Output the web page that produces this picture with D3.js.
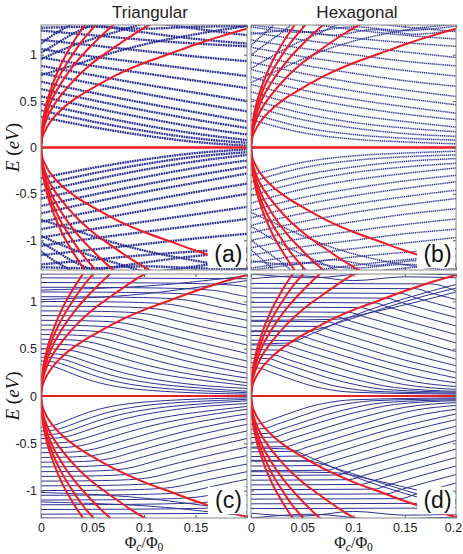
<!DOCTYPE html>
<html>
<head>
<meta charset="utf-8">
<script src="https://cdn.jsdelivr.net/npm/d3@7"></script>
<style>
body { margin: 0; background: #fff; }
svg { display: block; }
.tick text { font-family: "Liberation Sans", Arial, sans-serif; font-size: 12.5px; fill: #222; }
.frame { fill: none; stroke: #8a8a8a; stroke-width: 1; }
.lvl { fill: none; stroke: #ec1c24; stroke-width: 2; }
.st { fill: none; stroke: #2b3192; }
.title { font-family: "Liberation Sans", Arial, sans-serif; font-size: 17px; fill: #222; }
.tag { font-family: "Liberation Sans", Arial, sans-serif; font-size: 23px; fill: #111; }
.math { font-family: "Liberation Serif", "DejaVu Serif", serif; fill: #111; }
</style>
</head>
<body>
<div id="chart"></div>
<script>
/*global d3*/
(function () {
    "use strict";

    var columnTitles = ["Triangular", "Hexagonal"],
        panelTags = ["(a)", "(b)", "(c)", "(d)"],
        phiTicks = [0, 0.05, 0.1, 0.15, 0.2],
        eTicks = [-1, -0.5, 0, 0.5, 1],

        // Landau levels n = 0..5, positive branch (the negative one is the mirror)
        landau = [
            [[0, 0], [0.2, 0]],
            [[0, 0], [0.001, 0.09], [0.004, 0.18], [0.01, 0.29], [0.02, 0.41], [0.035, 0.54], [0.05, 0.64], [0.075, 0.79], [0.1, 0.91], [0.125, 1.01], [0.15, 1.11], [0.175, 1.20], [0.2, 1.28]],
            [[0, 0], [0.001, 0.13], [0.004, 0.26], [0.01, 0.41], [0.02, 0.57], [0.035, 0.76], [0.05, 0.91], [0.07, 1.07], [0.09, 1.22], [0.11, 1.35]],
            [[0, 0], [0.001, 0.16], [0.004, 0.31], [0.01, 0.50], [0.02, 0.70], [0.035, 0.93], [0.05, 1.11], [0.065, 1.27], [0.075, 1.36]],
            [[0, 0], [0.001, 0.18], [0.004, 0.36], [0.01, 0.57], [0.02, 0.81], [0.03, 0.99], [0.04, 1.15], [0.05, 1.28], [0.057, 1.37]],
            [[0, 0], [0.001, 0.20], [0.004, 0.41], [0.01, 0.64], [0.02, 0.91], [0.03, 1.11], [0.04, 1.28], [0.046, 1.38]]
        ],

        // dot levels, E > 0 side (spectrum is symmetric in E)
        levelsA = [
            [[0, 0.33], [0.05, 0.22], [0.1, 0.13], [0.15, 0.06], [0.2, 0.02]],
            [[0, 0.40], [0.05, 0.28], [0.1, 0.18], [0.15, 0.10], [0.2, 0.05]],
            [[0, 0.47], [0.05, 0.35], [0.1, 0.24], [0.15, 0.15], [0.2, 0.08]],
            [[0, 0.55], [0.05, 0.43], [0.1, 0.32], [0.15, 0.22], [0.2, 0.14]],
            [[0, 0.63], [0.05, 0.51], [0.1, 0.40], [0.15, 0.30], [0.2, 0.21]],
            [[0, 0.71], [0.05, 0.59], [0.1, 0.48], [0.15, 0.38], [0.2, 0.28]],
            [[0, 0.80], [0.05, 0.69], [0.1, 0.58], [0.15, 0.48], [0.2, 0.39]],
            [[0, 0.88], [0.05, 0.78], [0.1, 0.68], [0.15, 0.59], [0.2, 0.50]],
            [[0, 0.97], [0.05, 0.88], [0.1, 0.80], [0.15, 0.72], [0.2, 0.64]],
            [[0, 1.06], [0.05, 0.98], [0.1, 0.91], [0.15, 0.84], [0.2, 0.77]],
            [[0, 1.16], [0.05, 1.10], [0.1, 1.04], [0.15, 0.98], [0.2, 0.93]],
            [[0, 1.26], [0.05, 1.21], [0.1, 1.16], [0.15, 1.12], [0.2, 1.09]],
            [[0.03, 1.36], [0.1, 1.24], [0.15, 1.17], [0.2, 1.12]],
            [[0.1, 1.36], [0.15, 1.28], [0.2, 1.21]],
            [[0, 0.78], [0.03, 0.88], [0.06, 0.99], [0.1, 1.11], [0.15, 1.22], [0.2, 1.31]],
            [[0, 0.95], [0.02, 1.05], [0.05, 1.17], [0.08, 1.27], [0.1, 1.34]],
            [[0, 1.02], [0.015, 1.12], [0.03, 1.22], [0.045, 1.30], [0.055, 1.36]],
            [[0, 1.12], [0.01, 1.20], [0.025, 1.30], [0.035, 1.36]],
            [[0, 1.29], [0.05, 1.30], [0.1, 1.28], [0.15, 1.30], [0.2, 1.31]]
        ],
        levelsB = [
            [[0, 0.30], [0.05, 0.16], [0.1, 0.09], [0.15, 0.06], [0.2, 0.04]],
            [[0, 0.37], [0.05, 0.22], [0.1, 0.14], [0.15, 0.10], [0.2, 0.08]],
            [[0, 0.45], [0.05, 0.30], [0.1, 0.21], [0.15, 0.15], [0.2, 0.12]],
            [[0, 0.52], [0.05, 0.37], [0.1, 0.27], [0.15, 0.21], [0.2, 0.17]],
            [[0, 0.60], [0.05, 0.45], [0.1, 0.35], [0.15, 0.28], [0.2, 0.22]],
            [[0, 0.68], [0.05, 0.54], [0.1, 0.44], [0.15, 0.36], [0.2, 0.30]],
            [[0, 0.76], [0.05, 0.62], [0.1, 0.52], [0.15, 0.44], [0.2, 0.37]],
            [[0, 0.84], [0.05, 0.71], [0.1, 0.61], [0.15, 0.53], [0.2, 0.46]],
            [[0, 0.92], [0.05, 0.80], [0.1, 0.70], [0.15, 0.62], [0.2, 0.55]],
            [[0, 1.00], [0.05, 0.89], [0.1, 0.80], [0.15, 0.72], [0.2, 0.66]],
            [[0, 1.08], [0.05, 0.98], [0.1, 0.90], [0.15, 0.83], [0.2, 0.77]],
            [[0, 1.16], [0.05, 1.07], [0.1, 1.00], [0.15, 0.93], [0.2, 0.88]],
            [[0, 1.24], [0.05, 1.16], [0.1, 1.09], [0.15, 1.03], [0.2, 0.97]],
            [[0, 1.32], [0.05, 1.25], [0.1, 1.18], [0.15, 1.13], [0.2, 1.09]],
            [[0.04, 1.36], [0.1, 1.27], [0.15, 1.21], [0.2, 1.17]],
            [[0.1, 1.36], [0.15, 1.30], [0.2, 1.25]],
            [[0, 0.70], [0.02, 0.80], [0.05, 0.95], [0.08, 1.08], [0.12, 1.20], [0.16, 1.28], [0.2, 1.33]],
            [[0, 0.85], [0.02, 0.98], [0.04, 1.10], [0.07, 1.25], [0.085, 1.33]],
            [[0, 1.00], [0.015, 1.12], [0.03, 1.24], [0.04, 1.33]],
            [[0, 1.10], [0.01, 1.20], [0.02, 1.30], [0.025, 1.36]],
            [[0, 1.22], [0.04, 1.26], [0.08, 1.21], [0.12, 1.27], [0.16, 1.22], [0.2, 1.27]],
            [[0, 1.30], [0.05, 1.24], [0.1, 1.30], [0.15, 1.26], [0.2, 1.31]]
        ],
        levelsC = [
            [[0, 0.33], [0.01, 0.325], [0.025, 0.26], [0.045, 0.17], [0.07, 0.10], [0.1, 0.06], [0.15, 0.03], [0.2, 0.02]],
            [[0, 0.37], [0.015, 0.365], [0.03, 0.30], [0.055, 0.20], [0.08, 0.13], [0.12, 0.07], [0.2, 0.035]],
            [[0, 0.41], [0.019, 0.405], [0.035, 0.34], [0.06, 0.24], [0.09, 0.16], [0.13, 0.10], [0.2, 0.05]],
            [[0, 0.45], [0.023, 0.445], [0.04, 0.38], [0.07, 0.27], [0.1, 0.19], [0.15, 0.11], [0.2, 0.08]],
            [[0, 0.50], [0.029, 0.495], [0.047, 0.43], [0.08, 0.32], [0.12, 0.21], [0.2, 0.11]],
            [[0, 0.55], [0.035, 0.545], [0.055, 0.48], [0.09, 0.36], [0.13, 0.25], [0.2, 0.14]],
            [[0, 0.60], [0.042, 0.595], [0.062, 0.53], [0.1, 0.41], [0.14, 0.29], [0.2, 0.19]],
            [[0, 0.65], [0.05, 0.645], [0.07, 0.58], [0.11, 0.46], [0.15, 0.34], [0.2, 0.24]],
            [[0, 0.70], [0.058, 0.695], [0.078, 0.63], [0.12, 0.50], [0.16, 0.39], [0.2, 0.30]],
            [[0, 0.75], [0.067, 0.745], [0.087, 0.68], [0.13, 0.55], [0.17, 0.44], [0.2, 0.37]],
            [[0, 0.80], [0.077, 0.795], [0.097, 0.73], [0.14, 0.60], [0.2, 0.45]],
            [[0, 0.85], [0.087, 0.845], [0.107, 0.78], [0.15, 0.66], [0.2, 0.54]],
            [[0, 0.90], [0.098, 0.895], [0.118, 0.83], [0.16, 0.72], [0.2, 0.63]],
            [[0, 0.95], [0.11, 0.945], [0.13, 0.88], [0.17, 0.78], [0.2, 0.72]],
            [[0, 1.00], [0.122, 0.995], [0.142, 0.93], [0.2, 0.80]],
            [[0, 1.05], [0.135, 1.045], [0.155, 0.98], [0.2, 0.88]],
            [[0, 1.10], [0.149, 1.095], [0.17, 1.03], [0.2, 0.96]],
            [[0, 1.15], [0.163, 1.145], [0.185, 1.08], [0.2, 1.05]],
            [[0, 1.20], [0.18, 1.195], [0.2, 1.15]],
            [[0, 1.25], [0.2, 1.24]],
            [[0, 1.29], [0.2, 1.30]],
            [[0, 1.02], [0.08, 1.05], [0.14, 1.13], [0.2, 1.22]],
            [[0, 1.12], [0.1, 1.15], [0.16, 1.22], [0.2, 1.27]]
        ],
        levelsD = [
            [[0, 0.30], [0.008, 0.295], [0.02, 0.25], [0.07, 0.08], [0.1, 0.04], [0.2, 0.02]],
            [[0, 0.35], [0.012, 0.345], [0.025, 0.30], [0.08, 0.11], [0.12, 0.05], [0.2, 0.03]],
            [[0, 0.40], [0.017, 0.395], [0.03, 0.35], [0.09, 0.15], [0.13, 0.07], [0.2, 0.04]],
            [[0, 0.44], [0.022, 0.435], [0.035, 0.39], [0.1, 0.18], [0.14, 0.09], [0.2, 0.05]],
            [[0, 0.49], [0.028, 0.485], [0.042, 0.44], [0.11, 0.22], [0.15, 0.12], [0.2, 0.07]],
            [[0, 0.54], [0.034, 0.535], [0.048, 0.49], [0.12, 0.26], [0.16, 0.15], [0.2, 0.10]],
            [[0, 0.59], [0.041, 0.585], [0.055, 0.54], [0.13, 0.30], [0.17, 0.19], [0.2, 0.14]],
            [[0, 0.64], [0.048, 0.635], [0.062, 0.59], [0.14, 0.34], [0.2, 0.19]],
            [[0, 0.69], [0.056, 0.685], [0.07, 0.64], [0.15, 0.38], [0.2, 0.25]],
            [[0, 0.74], [0.065, 0.735], [0.079, 0.69], [0.16, 0.43], [0.2, 0.32]],
            [[0, 0.79], [0.074, 0.785], [0.088, 0.74], [0.2, 0.39]],
            [[0, 0.84], [0.084, 0.835], [0.098, 0.79], [0.2, 0.47]],
            [[0, 0.89], [0.095, 0.885], [0.11, 0.84], [0.2, 0.56]],
            [[0, 0.94], [0.107, 0.935], [0.121, 0.89], [0.2, 0.65]],
            [[0, 0.99], [0.12, 0.985], [0.134, 0.94], [0.2, 0.74]],
            [[0, 1.04], [0.132, 1.035], [0.146, 0.99], [0.2, 0.83]],
            [[0, 1.09], [0.146, 1.085], [0.16, 1.04], [0.2, 0.92]],
            [[0, 1.14], [0.16, 1.135], [0.175, 1.09], [0.2, 1.02]],
            [[0, 1.19], [0.175, 1.185], [0.2, 1.11]],
            [[0, 1.24], [0.05, 1.27], [0.1, 1.22], [0.15, 1.26], [0.2, 1.25]],
            [[0, 1.29], [0.06, 1.25], [0.12, 1.30], [0.2, 1.28]],
            [[0, 0.55], [0.035, 0.56], [0.06, 0.66], [0.1, 0.85], [0.15, 1.03], [0.2, 1.18]],
            [[0, 0.68], [0.055, 0.69], [0.09, 0.79], [0.13, 0.93], [0.17, 1.06], [0.2, 1.14]],
            [[0, 0.80], [0.08, 0.81], [0.12, 0.89], [0.16, 0.99], [0.2, 1.10]]
        ],

        cols = [{ x0: 41, x1: 247 }, { x0: 251, x1: 456 }],
        rows = [
            { y0: 25, y1: 270, eMax: 1.32, boxTop: -1.03, boxBottom: -1.30 },
            { y0: 274, y1: 518, eMax: 1.29, boxTop: -0.96, boxBottom: -1.25 }
        ],
        panels = [
            { col: 0, row: 0, levels: levelsA, width: 2.3, dash: "1.8 0.7", curve: d3.curveMonotoneX },
            { col: 1, row: 0, levels: levelsB, width: 1.5, dash: "1.2 0.7", curve: d3.curveMonotoneX },
            { col: 0, row: 1, levels: levelsC, width: 1, dash: null, curve: d3.curveBasis },
            { col: 1, row: 1, levels: levelsD, width: 1, dash: null, curve: d3.curveMonotoneX }
        ],

        svg = d3.select("#chart").append("svg")
            .attr("width", 463)
            .attr("height", 554);

    function mirror(lines) {
        return lines.concat(lines.map(function (l) {
            return l.map(function (d) { return [d[0], -d[1]]; });
        }));
    }

    panels.forEach(function (p, i) {
        var c = cols[p.col],
            r = rows[p.row],
            x = d3.scaleLinear().domain([0, 0.2]).range([c.x0, c.x1]),
            y = d3.scaleLinear().domain([-r.eMax, r.eMax]).range([r.y1, r.y0]),
            g = svg.append("g"),
            plot,
            bottomAxis,
            levelLine = d3.line()
                .x(function (d) { return x(d[0]); })
                .y(function (d) { return y(d[1]); })
                .curve(p.curve),
            llLine = d3.line()
                .x(function (d) { return x(d[0]); })
                .y(function (d) { return y(d[1]); })
                .curve(d3.curveMonotoneX);

        g.append("clipPath").attr("id", "clip" + i)
            .append("rect")
            .attr("x", c.x0).attr("y", r.y0)
            .attr("width", c.x1 - c.x0).attr("height", r.y1 - r.y0);
        g.append("rect")
            .attr("x", c.x0).attr("y", r.y0)
            .attr("width", c.x1 - c.x0).attr("height", r.y1 - r.y0)
            .attr("fill", "#fff");

        plot = g.append("g").attr("clip-path", "url(#clip" + i + ")");

        plot.selectAll(".st")
            .data(mirror(p.levels))
            .enter().append("path")
            .attr("class", "st")
            .attr("stroke-width", p.width)
            .attr("stroke-dasharray", p.dash)
            .attr("d", levelLine);

        plot.selectAll(".lvl")
            .data(mirror(landau))
            .enter().append("path")
            .attr("class", "lvl")
            .attr("d", llLine);

        // white patch behind the panel tag
        g.append("rect")
            .attr("x", x(0.162))
            .attr("y", y(r.boxTop))
            .attr("width", x(0.2) - x(0.162) - 1)
            .attr("height", y(r.boxBottom) - y(r.boxTop))
            .attr("fill", "#fff");
        g.append("text")
            .attr("class", "tag")
            .attr("x", (x(0.162) + x(0.2)) / 2 + 1)
            .attr("y", y(r.boxBottom) - 6)
            .attr("text-anchor", "middle")
            .text(panelTags[i]);

        // ticks on the four sides, pointing inwards
        g.append("g")
            .attr("transform", "translate(" + c.x0 + ",0)")
            .attr("color", "#555")
            .call(d3.axisLeft(y).tickValues(eTicks).tickSize(-3).tickPadding(4)
                .tickFormat(p.col === 0 ? function (d) { return String(d); } : ""))
            .select(".domain").remove();
        g.append("g")
            .attr("transform", "translate(" + c.x1 + ",0)")
            .attr("color", "#555")
            .call(d3.axisRight(y).tickValues(eTicks).tickSize(-3).tickFormat(""))
            .select(".domain").remove();
        g.append("g")
            .attr("transform", "translate(0," + r.y0 + ")")
            .attr("color", "#555")
            .call(d3.axisTop(x).tickValues(phiTicks).tickSize(-3).tickFormat(""))
            .select(".domain").remove();
        bottomAxis = g.append("g")
            .attr("transform", "translate(0," + r.y1 + ")")
            .attr("color", "#555")
            .call(d3.axisBottom(x).tickValues(phiTicks).tickSize(-3).tickPadding(5)
                .tickFormat(p.row === 1 ? function (d) {
                    return (p.col === 0 && d === 0.2) ? "" : String(d);
                } : ""));
        bottomAxis.select(".domain").remove();
        bottomAxis.selectAll(".tick text")
            .filter(function (d) { return d === 0.2; })
            .attr("dx", -3);

        g.append("rect")
            .attr("class", "frame")
            .attr("x", c.x0).attr("y", r.y0)
            .attr("width", c.x1 - c.x0).attr("height", r.y1 - r.y0);

        if (p.row === 0) {
            g.append("text")
                .attr("class", "title")
                .attr("x", p.col === 0 ? 150 : 357)
                .attr("y", 18)
                .attr("text-anchor", "middle")
                .text(columnTitles[p.col]);
        }
        if (p.col === 0) {
            var yl = g.append("text")
                .attr("class", "math")
                .attr("font-size", "19px")
                .attr("text-anchor", "middle")
                .attr("transform", "translate(19," + y(0) + ") rotate(-90)");
            yl.append("tspan").attr("font-style", "italic").text("E");
            yl.append("tspan").text(" (");
            yl.append("tspan").attr("font-style", "italic").text("eV");
            yl.append("tspan").text(")");
        }
        if (p.row === 1) {
            var xl = g.append("text")
                .attr("class", "math")
                .attr("font-size", "16px")
                .attr("x", (c.x0 + c.x1) / 2)
                .attr("y", 548)
                .attr("text-anchor", "middle");
            xl.append("tspan").text("\u03A6");
            xl.append("tspan").attr("font-style", "italic").attr("font-size", "11.5px").attr("dy", 3).text("c");
            xl.append("tspan").attr("dy", -3).text("/\u03A6");
            xl.append("tspan").attr("font-size", "11.5px").attr("dy", 3).text("0");
        }
    });
}());
</script>
</body>
</html>
